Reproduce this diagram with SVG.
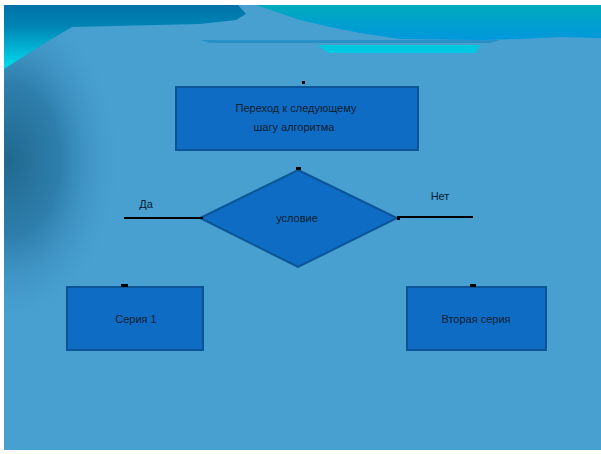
<svg xmlns="http://www.w3.org/2000/svg" width="601" height="454" viewBox="0 0 601 454">
<defs>
<radialGradient id="shade" gradientUnits="userSpaceOnUse" cx="0" cy="0" r="1" gradientTransform="translate(8,160) scale(115,170)">
<stop offset="0" stop-color="#1f6890"/>
<stop offset="0.45" stop-color="#2a78a5" stop-opacity="0.85"/>
<stop offset="1" stop-color="#47a0d0" stop-opacity="0"/>
</radialGradient>
<linearGradient id="leftWave" gradientUnits="userSpaceOnUse" x1="0" y1="5" x2="0" y2="68">
<stop offset="0" stop-color="#0072a8"/>
<stop offset="0.35" stop-color="#0085b5"/>
<stop offset="1" stop-color="#00dcec"/>
</linearGradient>
<linearGradient id="rightWave" gradientUnits="userSpaceOnUse" x1="0" y1="5" x2="0" y2="40">
<stop offset="0" stop-color="#00aabb"/>
<stop offset="0.55" stop-color="#00a0d0"/>
<stop offset="1" stop-color="#0098dc"/>
</linearGradient>
<style>
.box{fill:#0f6cc4;stroke:#0b5597;stroke-width:2}
.lbl{font-family:"Liberation Sans",Arial,sans-serif;font-size:11px;fill:#0a1c30;text-anchor:middle}
.ln{stroke:#000;stroke-width:2}
.dot{fill:#000}
</style>
</defs>
<rect width="601" height="454" fill="#fff"/>
<rect x="4" y="5" width="597" height="445" fill="#47a0d0"/>
<rect x="4" y="5" width="200" height="380" fill="url(#shade)"/>
<path d="M4 5 H238 L246 14 L236 20 L200 24 L72 27 L40 46 L4 69 Z" fill="url(#leftWave)"/>
<path d="M256 5 H601 V38 L560 37 L520 39 L480 40 L400 39 L360 33 L330 27 L300 20 Z" fill="url(#rightWave)"/>
<path d="M200 40 H500 L490 43 H210 Z" fill="#2a90c8"/>
<path d="M318 45 H480 L476 53 L328 53 Z" fill="#00c8e0"/>
<g id="top-node">
<rect class="box" x="176" y="87" width="242" height="63"/>
<rect class="dot" x="302" y="81" width="3" height="3"/>
<text class="lbl" x="296" y="112">Переход к следующему</text>
<text class="lbl" x="294" y="131">шагу алгоритма</text>
</g>
<g id="condition">
<polygon class="box" points="298,170 397,218 298,267 200,218"/>
<rect class="dot" x="296" y="167" width="5" height="3"/>
<rect class="dot" x="397" y="217" width="3" height="3"/>
<text class="lbl" x="297" y="222">условие</text>
</g>
<g id="left-node">
<rect class="box" x="67" y="287" width="136" height="63"/>
<rect class="dot" x="121" y="284" width="7" height="3"/>
<text class="lbl" x="136" y="323">Серия 1</text>
</g>
<g id="right-node">
<rect class="box" x="407" y="287" width="139" height="63"/>
<rect class="dot" x="470" y="284" width="6" height="3"/>
<text class="lbl" x="476" y="323">Вторая серия</text>
</g>
<g id="connectors">
<line class="ln" x1="124" y1="218" x2="203" y2="218"/>
<line class="ln" x1="397" y1="217" x2="473" y2="217"/>
<text class="lbl" x="146" y="208">Да</text>
<text class="lbl" x="440" y="200">Нет</text>
</g>
</svg>
